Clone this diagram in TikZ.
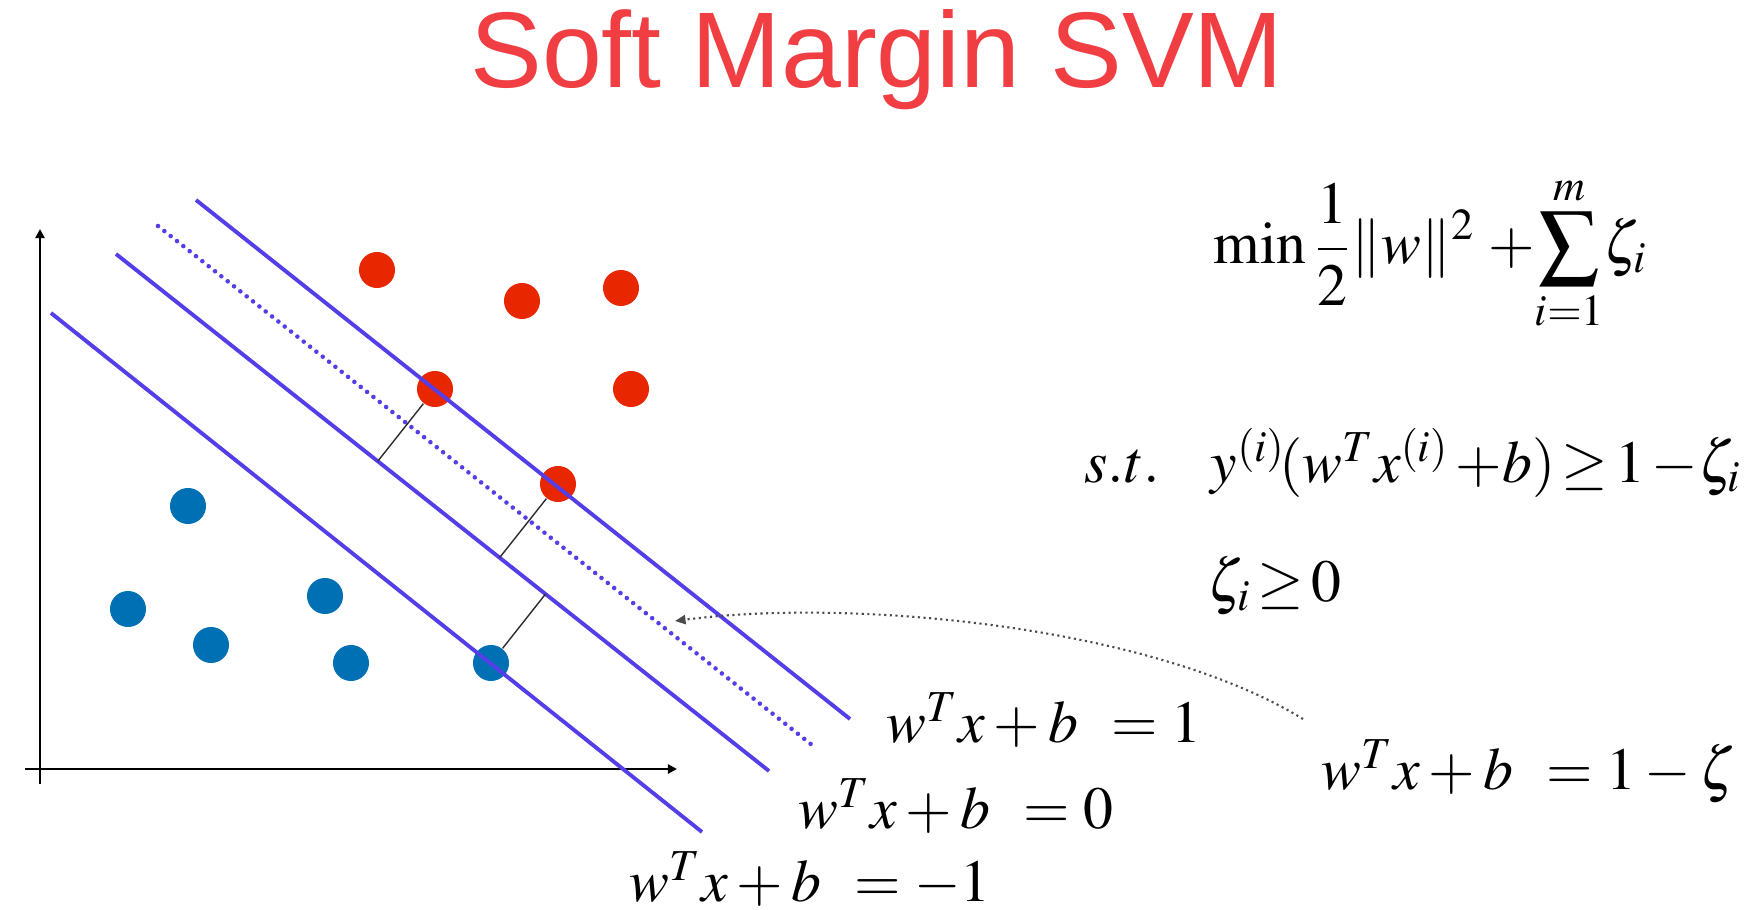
\documentclass[tikz,border=0pt]{standalone}
\usepackage{amsmath,amssymb}
\usepackage{mathptmx}
\usepackage{fontspec}
\setmainfont{Liberation Serif}
\newfontfamily\titlefont{Liberation Sans}
\usetikzlibrary{arrows.meta,calc}
\definecolor{titlered}{RGB}{240,62,66}
\definecolor{lineblue}{RGB}{84,62,232}
\definecolor{dotred}{RGB}{232,38,0}
\definecolor{dotblue}{RGB}{0,112,180}

\begin{document}
\begin{tikzpicture}[x=0.01cm,y=-0.01cm,
    plane/.style={lineblue,line width=1.1pt},
    slack/.style={lineblue,line width=1.3pt,line cap=round,dash pattern=on 0pt off 2.3pt},
    sample/.style={circle,inner sep=0pt,minimum size=0.36cm},
    gap/.style={gray!35!black,line width=0.4pt},
    eq/.style={anchor=base west,inner sep=0pt,font=\fontsize{17}{20}\selectfont}]
  \useasboundingbox (0,0) rectangle (1748,910);
  \node[anchor=base,inner sep=0pt,text=titlered,font=\titlefont\fontsize{30.6}{36}\selectfont] (title) at (877,88) {Soft Margin SVM};
  % axes
  \coordinate (xfrom) at (25,769);
  \coordinate (xto) at (677,769);
  \coordinate (yfrom) at (40,784);
  \coordinate (yto) at (40,229);
  \draw[line width=0.6pt,-{Triangle[length=2.6pt,width=2.6pt]}] (xfrom) -- (xto);
  \draw[line width=0.6pt,-{Triangle[length=2.6pt,width=2.6pt]}] (yfrom) -- (yto);
  % samples
  \foreach \nm/\x/\y in {r1/377/270,r2/522/301,r3/621/288,r4/435/389,r5/631/389,r6/558/484}
    \node[sample,fill=dotred] (\nm) at (\x,\y) {};
  \foreach \nm/\x/\y in {b1/188/506,b2/128/609,b3/211/645,b4/325/596,b5/351/663,b6/491/663}
    \node[sample,fill=dotblue] (\nm) at (\x,\y) {};
  % hyperplanes
  \foreach \nm/\xa/\ya/\xb/\yb in {hp/196/200/850/719,hz/158/226/812/745,h0/116/254/769/771,hm/51/313/702/832}{
    \coordinate (\nm a) at (\xa,\ya);
    \coordinate (\nm b) at (\xb,\yb);
  }
  \draw[plane] (hpa) -- (hpb);
  \draw[slack] (hza) -- (hzb);
  \draw[plane] (h0a) -- (h0b);
  \draw[plane] (hma) -- (hmb);
  % distances to the separating line
  \foreach \nm in {r4,r6,b6}
    \draw[gap] (\nm) -- ($(h0a)!(\nm)!(h0b)$);
  % labels
  \node[eq] (lp) at (886,743) {$w^{T}x+b\;\,=1$};
  \node[eq] (l0) at (798,829) {$w^{T}x+b\;\,=0$};
  \node[eq] (lm) at (629,902) {$w^{T}x+b\;\,=-1$};
  \node[eq] (lz) at (1321,790) {$w^{T}x+b\;\,=1-\zeta$};
  \coordinate (ztip) at (675,621);
  \coordinate (zfrom) at (1303,719);
  \draw[gray!60!black,line width=0.6pt,densely dotted,-{Triangle[length=3pt,width=2.6pt]}]
    (zfrom) .. controls (1150,625) and (850,598) .. (ztip);
  % problem
  \node[eq] (obj) at (1213,264) {$\displaystyle \min\frac{1}{2}\|w\|^{2}\;{+}\!\sum_{i=1}^{m}\!\zeta_{i}$};
  \node[eq] (st) at (1084,483) {$s.t.$};
  \node[eq] (cons) at (1210,483) {$y^{(i)}\!(w^{T}x^{(i)}\,{+}b)\,{\geq}\mkern2mu 1\,{-}\zeta_{i}$};
  \node[eq] (pos) at (1207,602) {$\zeta_{i}\,{\geq}\,0$};
\end{tikzpicture}
\end{document}
